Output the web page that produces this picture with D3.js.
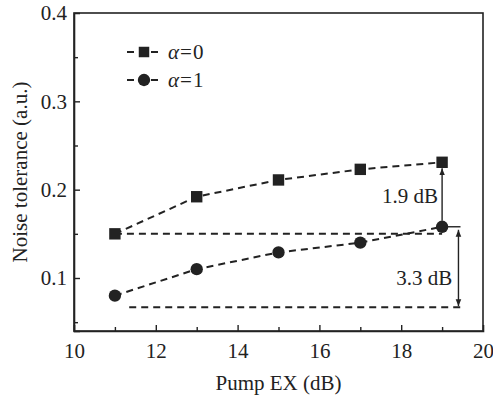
<!DOCTYPE html>
<html>
<head>
<meta charset="utf-8">
<script src="https://cdn.jsdelivr.net/npm/d3@7"></script>
<style>
  html, body { margin: 0; padding: 0; background: #fff; }
  svg text { font-family: "Liberation Serif", "Times New Roman", serif; fill: #222; }
</style>
</head>
<body>
<div id="chart"></div>
<script>
// data
const pumpEX = [11, 13, 15, 17, 19];
const alpha0 = [0.150, 0.192, 0.211, 0.223, 0.231];
const alpha1 = [0.080, 0.110, 0.129, 0.140, 0.158];
const xTicks = [10, 12, 14, 16, 18, 20];
const yTicks = [0.1, 0.2, 0.3, 0.4];
// reference lines: [y, xStart, xEnd]
const refLines = [[0.150, 11, 19.0], [0.067, 11.35, 19.45]];
const gapLabels = ['1.9 dB', '3.3 dB'];

const width = 493, height = 399;
const margin = { top: 13, right: 10, bottom: 68, left: 74 };
const ink = '#222';
const fs = 21;

const svg = d3.select('#chart').append('svg')
  .attr('width', width)
  .attr('height', height);

const x = d3.scaleLinear().domain([10, 20]).range([margin.left, width - margin.right]);
const y = d3.scaleLinear().domain([0.04, 0.4]).range([height - margin.bottom, margin.top]);

// arrow head
const defs = svg.append('defs');
defs.append('marker')
  .attr('id', 'arrow')
  .attr('viewBox', '0 0 10 10')
  .attr('refX', 10).attr('refY', 5)
  .attr('markerWidth', 7).attr('markerHeight', 7)
  .attr('markerUnits', 'userSpaceOnUse')
  .attr('orient', 'auto-start-reverse')
  .append('path')
  .attr('d', 'M0,1 L10,5 L0,9 Z')
  .attr('fill', ink);

// frame
svg.append('rect')
  .attr('x', x(10)).attr('y', y(0.4))
  .attr('width', x(20) - x(10)).attr('height', y(0.04) - y(0.4))
  .attr('fill', 'none').attr('stroke', ink).attr('stroke-width', 1.6);

// axes, ticks inward
const xAxis = svg.append('g')
  .attr('transform', `translate(0,${y(0.04)})`)
  .call(d3.axisBottom(x).tickValues(xTicks).tickSize(-6).tickPadding(12).tickFormat(d3.format('d')));
svg.append('g')
  .attr('transform', `translate(0,${y(0.04)})`)
  .call(d3.axisBottom(x).tickValues(d3.range(11, 20, 2)).tickSize(-4).tickFormat(''))
  .call(g => g.select('.domain').remove());

const yAxis = svg.append('g')
  .attr('transform', `translate(${x(10)},0)`)
  .call(d3.axisLeft(y).tickValues(yTicks).tickSize(-6).tickPadding(7).tickFormat(d3.format('.1f')));
svg.append('g')
  .attr('transform', `translate(${x(10)},0)`)
  .call(d3.axisLeft(y).tickValues([0.05, 0.15, 0.25, 0.35]).tickSize(-4).tickFormat(''))
  .call(g => g.select('.domain').remove());

svg.selectAll('.domain').attr('stroke', ink).attr('stroke-width', 1.6);
svg.selectAll('.tick line').attr('stroke', ink).attr('stroke-width', 1.4);
svg.selectAll('.tick text')
  .attr('font-size', fs)
  .attr('fill', ink)
  .attr('font-family', '"Liberation Serif", serif');
xAxis.selectAll('.tick').filter(d => d === 10 || d === 20).select('line').remove();
yAxis.selectAll('.tick').filter(d => d === 0.4).select('line').remove();

// axis titles
svg.append('text')
  .attr('x', (x(10) + x(20)) / 2).attr('y', 390)
  .attr('text-anchor', 'middle').attr('font-size', fs)
  .text('Pump EX (dB)');
svg.append('text')
  .attr('transform', `translate(27,${(y(0.04) + y(0.4)) / 2}) rotate(-90)`)
  .attr('text-anchor', 'middle').attr('font-size', fs)
  .text('Noise tolerance (a.u.)');

const dash = '7,5';
const line = d3.line().x(d => x(d[0])).y(d => y(d[1]));

// reference dashed lines
svg.selectAll('.ref').data(refLines).enter().append('line')
  .attr('x1', d => x(d[1])).attr('x2', d => x(d[2]))
  .attr('y1', d => y(d[0])).attr('y2', d => y(d[0]))
  .attr('stroke', ink).attr('stroke-width', 2).attr('stroke-dasharray', dash);

// series
const series = [
  { name: '0', values: alpha0, shape: d3.symbolSquare },
  { name: '1', values: alpha1, shape: d3.symbolCircle }
];
series.forEach(s => {
  const pts = pumpEX.map((v, i) => [v, s.values[i]]);
  svg.append('path')
    .attr('d', line(pts))
    .attr('fill', 'none').attr('stroke', ink)
    .attr('stroke-width', 2).attr('stroke-dasharray', dash);
  svg.selectAll(null).data(pts).enter().append('path')
    .attr('transform', d => `translate(${x(d[0])},${y(d[1])})`)
    .attr('d', d3.symbol().type(s.shape).size(s.shape === d3.symbolSquare ? 130 : 120))
    .attr('fill', ink);
});

// gap arrows
const last = pumpEX.length - 1;
svg.append('line')
  .attr('x1', x(pumpEX[last])).attr('x2', x(pumpEX[last]))
  .attr('y1', y(alpha1[last]) - 6).attr('y2', y(alpha0[last]) + 6)
  .attr('stroke', ink).attr('stroke-width', 1.4)
  .attr('marker-end', 'url(#arrow)');

const xArrow = 19.4;
svg.append('line')
  .attr('x1', x(19.05)).attr('x2', x(19.45))
  .attr('y1', y(alpha1[last])).attr('y2', y(alpha1[last]))
  .attr('stroke', ink).attr('stroke-width', 1.4);
svg.append('line')
  .attr('x1', x(xArrow)).attr('x2', x(xArrow))
  .attr('y1', y(alpha1[last]) + 3).attr('y2', y(refLines[1][0]) - 1)
  .attr('stroke', ink).attr('stroke-width', 1.4)
  .attr('marker-start', 'url(#arrow)')
  .attr('marker-end', 'url(#arrow)');

svg.append('text')
  .attr('x', x(18.9)).attr('y', 203)
  .attr('text-anchor', 'end').attr('font-size', fs)
  .text(gapLabels[0]);
svg.append('text')
  .attr('x', x(19.25)).attr('y', 285)
  .attr('text-anchor', 'end').attr('font-size', fs)
  .text(gapLabels[1]);

// legend
const legend = svg.append('g');
series.forEach((s, i) => {
  const ly = 52 + i * 28;
  legend.append('line')
    .attr('x1', 127).attr('x2', 161).attr('y1', ly).attr('y2', ly)
    .attr('stroke', ink).attr('stroke-width', 2).attr('stroke-dasharray', dash);
  legend.append('path')
    .attr('transform', `translate(144,${ly})`)
    .attr('d', d3.symbol().type(s.shape).size(s.shape === d3.symbolSquare ? 110 : 120))
    .attr('fill', ink);
  const t = legend.append('text')
    .attr('x', 168).attr('y', ly + 7).attr('font-size', fs);
  t.append('tspan').attr('font-style', 'italic').text('α');
  t.append('tspan').attr('dx', 1).text('=');
  t.append('tspan').attr('dx', 1).text(s.name);
});
</script>
</body>
</html>
